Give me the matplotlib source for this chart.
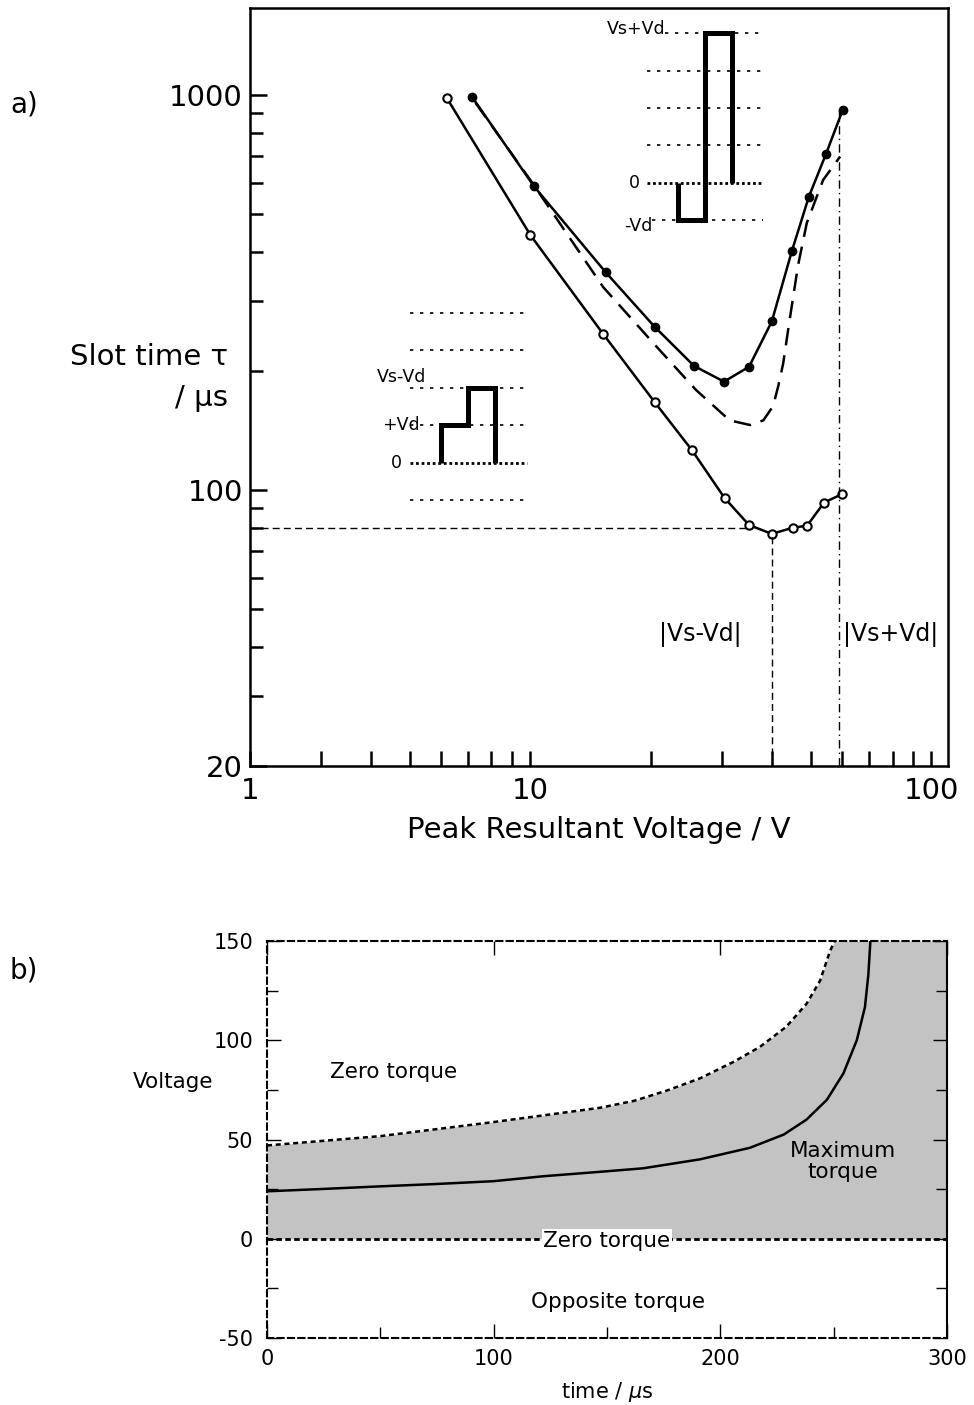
import numpy as np
import matplotlib
matplotlib.use('Agg')
import matplotlib.pyplot as plt
from matplotlib.ticker import FixedLocator, FixedFormatter, NullFormatter

plt.rcParams['font.family'] = ['DejaVu Sans']
plt.rcParams['axes.unicode_minus'] = False

W, H = 974, 1405

# ---------------- panel a data ----------------
open_x = [6.2, 10, 15.2, 20.4, 25.3, 30.5, 35.1, 40, 45.1, 49, 54, 60]
open_y = [980, 442, 248, 167, 126, 95.4, 81.5, 77.4, 80.2, 81.2, 92.9, 97.7]
filled_x = [7.15, 10.2, 15.4, 20.4, 25.6, 30.4, 35.1, 40, 44.9, 49.5, 54.6, 60.1]
filled_y = [990, 588, 356, 259, 206, 188, 205, 267, 403, 553, 709, 916]
dash_x = [7.3, 10, 15.2, 20.6, 25.9, 31.4, 35.3, 38.1, 40.3, 41.5, 42.7, 44.2,
          46.5, 48.9, 53.7, 59.2]
dash_y = [955, 609, 326, 231, 179, 150, 146, 150, 163, 183, 209, 265,
          370, 474, 609, 698]

x_major = [2, 10, 100]
x_major_labels = ['1', '10', '100']
x_minor = [3, 4, 5, 6, 7, 8, 9, 20, 30, 40, 50, 60, 70, 80, 90]
y_major = [20, 100, 1000]
y_major_labels = ['20', '100', '1000']
y_minor = [30, 40, 50, 60, 70, 80, 90, 200, 300, 400, 500, 600, 700, 800, 900]

tau_min_level = 80      # horizontal dashed reference
v_minus = 40            # |Vs-Vd|
v_plus = 59             # |Vs+Vd|

# inset waveforms (time units, level units)
wave1_t = [0, 0, 1, 1, 2, 2]
wave1_v = [0, 1, 1, 2, 2, 0]
wave2_t = [0, 0, 1, 1, 2, 2]
wave2_v = [0, -1, -1, 4, 4, 0]

# ---------------- panel b data ----------------
upper_t = [0, 50, 100, 147, 162, 176, 191, 206, 217.5, 229, 238, 244, 248.4, 250.5]
upper_v = [47, 51.7, 58.8, 66, 69.5, 74.5, 80.8, 89.2, 96.7, 106.7, 118.3, 130,
           145, 150]
max_t = [0, 25, 50, 75, 100, 122, 150, 166, 191, 213, 228, 238, 247, 254.3,
         260.2, 263.8, 265.3, 266.2]
max_v = [23.9, 25.1, 26.4, 27.6, 29.0, 31.5, 34.0, 35.5, 40, 45.8, 52.5, 60, 70,
         83.3, 100, 116.7, 133, 150]


def frac(x0, y0, x1, y1):
    return [x0 / W, 1 - y1 / H, (x1 - x0) / W, (y1 - y0) / H]


fig = plt.figure(figsize=(W / 100, H / 100), dpi=100)

# ================= panel a =================
ax = fig.add_axes(frac(250, 8, 948, 766))
ax.set_xscale('log')
ax.set_yscale('log')
ax.set_xlim(2, 110)
ax.set_ylim(20, 1660)

ax.plot(open_x, open_y, '-', color='black', lw=1.8, marker='o', ms=6,
        mfc='white', mec='black', mew=1.5)
ax.plot(filled_x, filled_y, '-', color='black', lw=1.8, marker='o', ms=6,
        mfc='black', mec='black')
ax.plot(dash_x, dash_y, color='black', lw=1.8, dashes=(7, 4))

ax.plot([2, 35], [tau_min_level, tau_min_level], color='black', lw=1, dashes=(5, 3))
ax.plot([v_minus, v_minus], [20, min(open_y)], color='black', lw=1, dashes=(5, 3))
ax.plot([v_plus, v_plus], [20, filled_y[-1]], color='black', lw=1,
        dashes=(6, 3, 1, 3))

ax.text(26.5, 43, '|Vs-Vd|', fontsize=17, ha='center', va='center')
ax.text(79, 43, '|Vs+Vd|', fontsize=17, ha='center', va='center')

ax.xaxis.set_major_locator(FixedLocator(x_major))
ax.xaxis.set_major_formatter(FixedFormatter(x_major_labels))
ax.xaxis.set_minor_locator(FixedLocator(x_minor))
ax.xaxis.set_minor_formatter(NullFormatter())
ax.yaxis.set_major_locator(FixedLocator(y_major))
ax.yaxis.set_major_formatter(FixedFormatter(y_major_labels))
ax.yaxis.set_minor_locator(FixedLocator(y_minor))
ax.yaxis.set_minor_formatter(NullFormatter())
ax.tick_params(which='both', direction='in', width=1.8, labelsize=21)
ax.tick_params(axis='x', which='major', length=11, pad=8)
ax.tick_params(axis='x', which='minor', length=11)
ax.tick_params(axis='y', which='major', length=12, pad=5)
ax.tick_params(axis='y', which='minor', length=9)
for s in ax.spines.values():
    s.set_linewidth(1.8)
ax.set_xlabel('Peak Resultant Voltage / V', fontsize=21, labelpad=8)

fig.text(228 / W, 1 - 357 / H, 'Slot time τ', fontsize=21, ha='right', va='center')
fig.text(228 / W, 1 - 398 / H, '/ μs', fontsize=21, ha='right', va='center')
fig.text(10 / W, 1 - 105 / H, 'a)', fontsize=20, ha='left', va='center')
fig.text(10 / W, 1 - 970 / H, 'b)', fontsize=20, ha='left', va='center')

# ---- inset 1 (lower left) ----
a1 = fig.add_axes(frac(405, 300, 530, 512))
a1.set_xlim(-1.333, 3.296)
a1.set_ylim(-1.315, 4.339)
a1.axis('off')
for lv in [-1, 1, 2, 3, 4]:
    a1.plot([-1.15, 3.19], [lv, lv], color='black', lw=1.2, dashes=(2, 4))
a1.plot([-1.15, 3.19], [0, 0], color='black', lw=2, dashes=(1, 1))
a1.plot(wave1_t, wave1_v, color='black', lw=3.6, solid_joinstyle='miter',
        solid_capstyle='butt')
a1.text(-0.55, 2.05, 'Vs-Vd', fontsize=12.5, ha='right', va='bottom')
a1.text(-0.8, 1.0, '+Vd', fontsize=12.5, ha='right', va='center')
a1.text(-1.45, 0.0, '0', fontsize=12.5, ha='right', va='center')

# ---- inset 2 (upper right) ----
a2 = fig.add_axes(frac(600, 15, 768, 240))
a2.set_xlim(-2.889, 3.333)
a2.set_ylim(-1.532, 4.484)
a2.axis('off')
for lv in [1, 2, 3]:
    a2.plot([-1.16, 3.15], [lv, lv], color='black', lw=1.2, dashes=(2, 4))
a2.plot([-0.48, 3.15], [4, 4], color='black', lw=1.2, dashes=(2, 4))
a2.plot([-0.96, 3.15], [-1, -1], color='black', lw=1.2, dashes=(2, 4))
a2.plot([-1.16, 3.15], [0, 0], color='black', lw=2, dashes=(1, 1))
a2.plot(wave2_t, wave2_v, color='black', lw=3.6, solid_joinstyle='miter',
        solid_capstyle='butt')
a2.text(-0.48, 4.1, 'Vs+Vd', fontsize=12.5, ha='right', va='center')
a2.text(-1.4, 0.0, '0', fontsize=12.5, ha='right', va='center')
a2.text(-0.96, -1.15, '-Vd', fontsize=12.5, ha='right', va='center')

# ================= panel b =================
bx = fig.add_axes(frac(267, 941, 947, 1338))
bx.set_xlim(0, 300)
bx.set_ylim(-50, 150)
bx.fill_between(upper_t + [300], 0, upper_v + [150], color='#c3c3c3', lw=0)
bx.plot(upper_t, upper_v, color='black', lw=1.8, dashes=(2, 1.5))
bx.plot(max_t, max_v, color='black', lw=1.8)
bx.plot([0, 300], [0, 0], color='black', lw=2, dashes=(2, 1.2))

bx.text(56, 84, 'Zero torque', fontsize=15.5, ha='center', va='center')
bx.text(150, -1, 'Zero torque', fontsize=15.5, ha='center', va='center',
        bbox=dict(facecolor='white', edgecolor='none', pad=1))
bx.text(155, -32, 'Opposite torque', fontsize=15.5, ha='center', va='center')
bx.text(254, 39, 'Maximum\ntorque', fontsize=15.5, ha='center', va='center',
        linespacing=1.05)

bx.set_xticks([0, 100, 200, 300])
bx.set_xticks([50, 150, 250], minor=True)
bx.set_yticks([-50, 0, 50, 100, 150])
bx.set_yticks([-25, 25, 75, 125], minor=True)
bx.tick_params(which='both', direction='in', labelsize=15, width=1)
bx.tick_params(which='major', length=10)
bx.tick_params(which='minor', length=8)
bx.tick_params(axis='y', which='both', right=True, pad=10)
bx.tick_params(axis='x', which='major', top=True, pad=8)
for side in ['left', 'top', 'bottom']:
    bx.spines[side].set_linestyle((0, (3, 2)))
    bx.spines[side].set_linewidth(1.5)
bx.spines['right'].set_linewidth(1.5)
bx.set_xlabel('time / $\\mu$s', fontsize=15, labelpad=8)
fig.text(173 / W, 1 - 1082 / H, 'Voltage', fontsize=15.5, ha='center', va='center')

fig.savefig('out.png', dpi=100)
